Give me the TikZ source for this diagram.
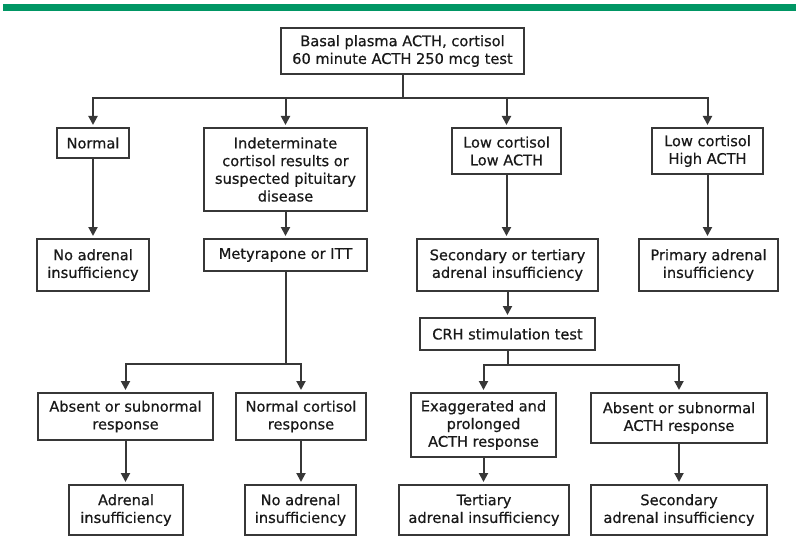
\documentclass[tikz,border=0pt]{standalone}
\usepackage{fontspec}
\setmainfont{DejaVu Sans}
\newfontfamily\boxfont[FakeBold=0.6]{DejaVu Sans}
\usetikzlibrary{arrows.meta}
\definecolor{bargreen}{RGB}{0,150,100}
\definecolor{linegray}{RGB}{55,55,55}
\begin{document}
\begin{tikzpicture}[x=1pt,y=-1pt,
  box/.style={draw=linegray,line width=2pt,align=center,inner sep=0pt,text=black!90,
    font=\boxfont\fontsize{14.6}{17.7}\selectfont},
  conn/.style={draw=linegray,line width=2pt},
  arr/.style={conn,-{Triangle[width=9pt,length=9pt]},shorten >=2pt}]
\useasboundingbox (0,0) rectangle (796,543);
\fill[bargreen] (3,4) rectangle (796,11);
% nodes
\node[box,minimum width=243,minimum height=46] (top) at (402.5,51) {Basal plasma ACTH, cortisol\\60 minute ACTH 250 mcg test};
\node[box,minimum width=72,minimum height=30] (normal) at (93,143) {Normal};
\node[box,minimum width=163,minimum height=83] (indet) at (285.5,169.5) {Indeterminate\\cortisol results or\\suspected pituitary\\disease};
\node[box,minimum width=109,minimum height=46] (lowlow) at (506.5,151) {Low cortisol\\Low ACTH};
\node[box,minimum width=111,minimum height=46] (lowhigh) at (707.5,151) {Low cortisol\\High ACTH};
\node[box,minimum width=112,minimum height=52] (noadr1) at (93,265) {No adrenal\\insufficiency};
\node[box,minimum width=163,minimum height=32] (mety) at (285.5,255) {Metyrapone or ITT};
\node[box,minimum width=181,minimum height=52] (sectert) at (507.5,265) {Secondary or tertiary\\adrenal insufficiency};
\node[box,minimum width=139,minimum height=52] (primary) at (708.5,265) {Primary adrenal\\insufficiency};
\node[box,minimum width=175,minimum height=32] (crh) at (507.5,334) {CRH stimulation test};
\node[box,minimum width=175,minimum height=47] (absent1) at (125.5,416.5) {Absent or subnormal\\response};
\node[box,minimum width=130,minimum height=47] (normcort) at (301,416.5) {Normal cortisol\\response};
\node[box,minimum width=145,minimum height=64] (exag) at (483.5,425) {Exaggerated and\\prolonged\\ACTH response};
\node[box,minimum width=176,minimum height=50] (absent2) at (679,418) {Absent or subnormal\\ACTH response};
\node[box,minimum width=114,minimum height=50] (adrins) at (126,510) {Adrenal\\insufficiency};
\node[box,minimum width=111,minimum height=50] (noadr2) at (300.5,510) {No adrenal\\insufficiency};
\node[box,minimum width=170,minimum height=50] (tert) at (484,510) {Tertiary\\adrenal insufficiency};
\node[box,minimum width=176,minimum height=50] (second) at (679,510) {Secondary\\adrenal insufficiency};
% branch points
\coordinate (b1) at (402.5,98);
\coordinate (b2) at (285.5,364);
\coordinate (b3) at (507.5,365);
% connectors
\draw[conn] (top.south) -- (b1);
\draw[arr] (b1) -| (normal.north);
\draw[arr] (b1) -| (indet.north);
\draw[arr] (b1) -| (lowlow.north);
\draw[arr] (b1) -| (lowhigh.north);
\draw[arr] (normal) -- (noadr1);
\draw[arr] (indet) -- (mety);
\draw[arr] (lowlow) -- (lowlow|-sectert.north);
\draw[arr] (lowhigh) -- (lowhigh|-primary.north);
\draw[arr] (sectert.south) -- (sectert.south|-crh.north);
\draw[conn] (mety.south) -- (b2);
\draw[arr] (b2) -| (absent1.north);
\draw[arr] (b2) -| (normcort.north);
\draw[conn] (crh.south) -- (b3);
\draw[arr] (b3) -| (exag.north);
\draw[arr] (b3) -| (absent2.north);
\draw[arr] (absent1) -- (absent1|-adrins.north);
\draw[arr] (normcort) -- (normcort|-noadr2.north);
\draw[arr] (exag) -- (exag|-tert.north);
\draw[arr] (absent2) -- (absent2|-second.north);
\end{tikzpicture}
\end{document}
